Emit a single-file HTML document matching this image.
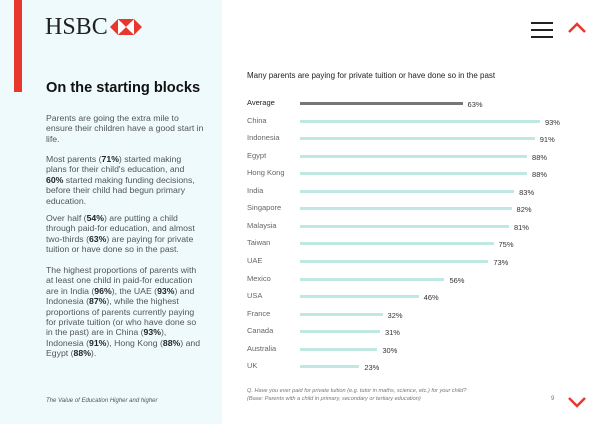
<!DOCTYPE html>
<html><head><meta charset="utf-8"><style>
body{margin:0;width:600px;height:424px;position:relative;background:#fff;font-family:"Liberation Sans",sans-serif;overflow:hidden}
.left{position:absolute;left:0;top:0;width:222px;height:424px;background:#eefafc}
.red{position:absolute;left:14px;top:0;width:8px;height:92px;background:#e8382e}
.logo{position:absolute;left:45px;top:14px;font-family:"Liberation Serif",serif;font-size:24px;color:#222}
h1{position:absolute;left:46px;top:80px;margin:0;font-size:14.6px;font-weight:bold;color:#111}
.txt{position:absolute;left:46px;width:158px;font-size:8.7px;line-height:10.4px;color:#555}
.txt b{color:#222}
.lab{position:absolute;left:247px;font-size:7.5px;color:#666}
.bar{position:absolute;left:300px;height:3px;background:#bfe8e2}
.val{position:absolute;font-size:7.5px;color:#333}
</style></head><body>
<div class="left"></div><div class="red"></div>
<div class="logo">HSBC</div>
<svg style="position:absolute;left:109px;top:19px" width="34" height="16" viewBox="0 0 32 16"><polygon points="0,8 8,0 24,0 32,8 24,16 8,16" fill="#e8382e"/><polygon points="8,0 16,8 8,16" fill="#fff"/><polygon points="24,0 16,8 24,16" fill="#fff"/><polygon points="8,0 24,0 16,8" fill="#e8382e"/><polygon points="8,16 24,16 16,8" fill="#e8382e"/><polygon points="11,3 16,8 11,13" fill="#fff"/><polygon points="21,3 16,8 21,13" fill="#fff"/></svg>
<h1>On the starting blocks</h1>
<div class="txt" style="top:113px">Parents are going the extra mile to ensure their children have a good start in life.</div>
<div class="txt" style="top:154px">Most parents (<b>71%</b>) started making plans for their child's education, and <b>60%</b> started making funding decisions, before their child had begun primary education.</div>
<div class="txt" style="top:213px">Over half (<b>54%</b>) are putting a child through paid-for education, and almost two-thirds (<b>63%</b>) are paying for private tuition or have done so in the past.</div>
<div class="txt" style="top:265px">The highest proportions of parents with at least one child in paid-for education are in India (<b>96%</b>), the UAE (<b>93%</b>) and Indonesia (<b>87%</b>), while the highest proportions of parents currently paying for private tuition (or who have done so in the past) are in China (<b>93%</b>), Indonesia (<b>91%</b>), Hong Kong (<b>88%</b>) and Egypt (<b>88%</b>).</div>
<div class="txt" style="top:396px;font-size:6px;font-style:italic;color:#555;width:200px">The Value of Education Higher and higher</div>
<div style="position:absolute;left:531px;top:22px;width:22px;height:2px;background:#222;box-shadow:0 7px 0 #222,0 14px 0 #222"></div>
<svg style="position:absolute;left:567px;top:22px" width="20" height="12"><polyline points="2,10 10,2 18,10" fill="none" stroke="#e8382e" stroke-width="2.5"/></svg>
<svg style="position:absolute;left:567px;top:396px" width="20" height="12"><polyline points="2,2 10,10 18,2" fill="none" stroke="#e8382e" stroke-width="2.5"/></svg>
<div style="position:absolute;left:247px;top:71px;font-size:8px;color:#222">Many parents are paying for private tuition or have done so in the past</div>
<div id="c"></div>
<div style="position:absolute;left:247px;top:387px;font-size:5.6px;line-height:8px;font-style:italic;color:#777">Q. Have you ever paid for private tuition (e.g. tutor in maths, science, etc.) for your child?<br>(Base: Parents with a child in primary, secondary or tertiary education)</div>
<div style="position:absolute;left:551px;top:396px;font-size:6px;color:#777">9</div>
<script>
var d=[["Average",63],["China",93],["Indonesia",91],["Egypt",88],["Hong Kong",88],["India",83],["Singapore",82],["Malaysia",81],["Taiwan",75],["UAE",73],["Mexico",56],["USA",46],["France",32],["Canada",31],["Australia",30],["UK",23]];
var h="";d.forEach(function(r,i){var y=103+i*17.55;var w=r[1]*2.58;var a=i==0;
h+='<div class="lab" style="top:'+(y-5)+'px;'+(a?'color:#222':'')+'">'+r[0]+'</div>';
h+='<div class="bar" style="top:'+(y-1)+'px;width:'+w+'px;'+(a?'background:#777':'')+'"></div>';
h+='<div class="val" style="top:'+(y-3)+'px;left:'+(305+w)+'px">'+r[1]+'%</div>';});
document.getElementById("c").innerHTML=h;
</script>
</body></html>
